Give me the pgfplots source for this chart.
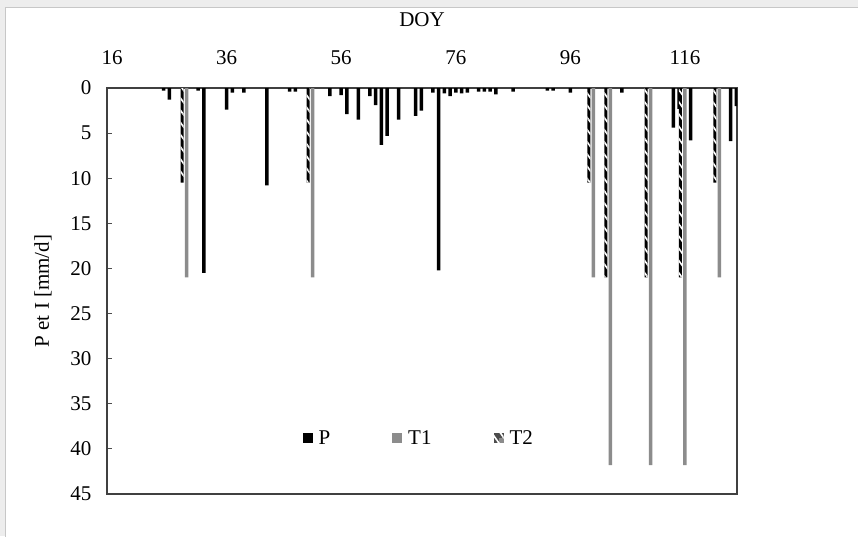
\documentclass[border=0pt]{standalone}
\usepackage{fontspec}
\setmainfont{Liberation Serif}
\usepackage{pgfplots}
\pgfplotsset{compat=1.18}
\usetikzlibrary{patterns.meta}

\definecolor{tone}{HTML}{8C8C8C}

\begin{document}
\begin{tikzpicture}
% frame of the figure, 1px = 1pt, axis SW corner at origin
\path[use as bounding box] (-107pt,-42pt) rectangle (751pt,494pt);
\fill[black!7] (-107pt,-42pt) rectangle (751pt,494pt);
\filldraw[fill=white, draw=black!22, line width=1pt] (-101pt,-60pt) rectangle (770pt,486pt);

\begin{axis}[
    at={(0pt,0pt)}, anchor=south west,
    scale only axis,
    width=630pt, height=406pt,
    xmin=15.1, xmax=125.1,
    ymin=0, ymax=45,
    y dir=reverse,
    xtick={16,36,...,116},
    ytick={0,5,...,45},
    ytick pos=left,
    xticklabel pos=upper,
    tick align=inside,
    major tick length=5pt,
    x tick style={draw=none},
    y tick style={black!70, line width=0.8pt},
    axis line style={black!75, line width=1.2pt},
    font=\fontsize{21}{25}\selectfont,
    /pgf/number format/assume math mode=true,
    xticklabel style={yshift=20pt},
    yticklabel style={xshift=-12pt},
    xlabel={DOY},
    xlabel style={yshift=17pt},
    ylabel={P et I [mm/d]},
    ylabel shift=12pt,
    legend columns=3,
    legend style={draw=none, fill=none, at={(0.31,0.138)}, anchor=west,
        inner sep=0pt, font=\fontsize{21}{25}\selectfont,
        /tikz/every odd column/.append style={column sep=4pt},
        /tikz/every even column/.append style={column sep=60pt}},
    legend cell align=left,
]

\addplot[ybar, bar shift=0pt, bar width=3.5pt, fill=black, draw=none,
    legend image code/.code={\fill[black] (0pt,-5pt) rectangle (10pt,5pt);}]
    coordinates {
    (25,0.3)(26,1.3)(31,0.3)(32,20.5)(36,2.4)(37,0.5)(39,0.5)(43,10.8)
    (47,0.4)(48,0.4)(54,0.9)(56,0.8)(57,2.9)(59,3.5)(61,0.9)(62,1.9)
    (63,6.3)(64,5.3)(66,3.5)(69,3.1)(70,2.5)(72,0.5)(73,20.2)(74,0.6)
    (75,0.9)(76,0.5)(77,0.6)(78,0.5)(80,0.4)(81,0.4)(82,0.4)(83,0.7)
    (86,0.4)(92,0.3)(93,0.3)(96,0.5)(105,0.5)(114,4.4)(115,2.3)(117,5.8)
    (124,5.9)(125,2.0)
    };

\addplot[ybar, bar shift=0pt, bar width=3.5pt, fill=tone, draw=none,
    legend image code/.code={\fill[tone] (0pt,-5pt) rectangle (10pt,5pt);}]
    coordinates {
    (29,21)(51,21)(100,21)(103,41.8)(110,41.8)(116,41.8)(122,21)
    };

\addplot[ybar, bar shift=-4.5pt, bar width=3pt, fill=black, draw=none,
    postaction={pattern={Lines[angle=-55, distance=7pt, line width=1.6pt]}, pattern color=white},
    legend image code/.code={\fill[black!70] (0pt,-5pt) rectangle (10pt,5pt);
        \fill[tone] (5pt,-5pt) rectangle (10pt,0pt);}]
    coordinates {
    (29,10.5)(51,10.5)(100,10.5)(103,21)(110,21)(116,21)(122,10.5)
    };

\legend{P, T1, T2}
\end{axis}
\end{tikzpicture}
\end{document}
